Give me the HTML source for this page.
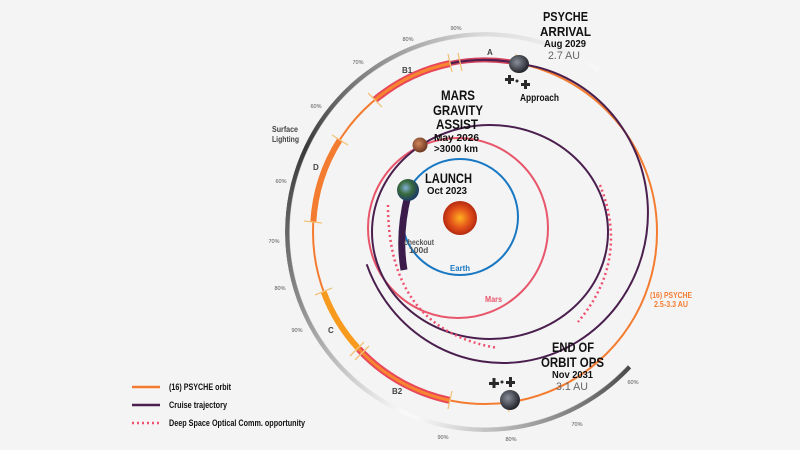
<!DOCTYPE html>
<html><head><meta charset="utf-8"><style>
body{margin:0;background:#f4f4f4;}
#w{position:relative;width:800px;height:450px;overflow:hidden;background:#f4f4f4;font-family:"Liberation Sans",sans-serif;}
#ring{position:absolute;left:285px;top:32px;width:400px;height:400px;border-radius:50%;
background:conic-gradient(from 0deg,#dcdcdc 0deg,#f8f8f8 35deg,transparent 35deg,transparent 133deg,#4a4a4a 133deg,#f8f8f8 200deg,#f8f8f8 205deg,#8a8a8a 250deg,#3a3a3a 295deg,#8a8a8a 325deg,#dcdcdc 360deg);
-webkit-mask:radial-gradient(circle,transparent 195px,#000 196px,#000 204px,transparent 205px);
mask:radial-gradient(circle,transparent 195px,#000 196px,#000 204px,transparent 205px);}
svg{position:absolute;left:0;top:0;}
text{font-family:"Liberation Sans",sans-serif;}
</style></head><body><div id="w">
<div id="ring"></div>
<svg width="800" height="450" viewBox="0 0 800 450">
<defs>
<radialGradient id="sun" cx="50%" cy="50%" r="50%"><stop offset="0" stop-color="#ffb020"/><stop offset="0.6" stop-color="#e2501a"/><stop offset="1" stop-color="#b52a10"/></radialGradient>
<radialGradient id="earth" cx="40%" cy="40%" r="60%"><stop offset="0" stop-color="#7fb0d8"/><stop offset="0.5" stop-color="#3a6b3c"/><stop offset="1" stop-color="#1d3a66"/></radialGradient>
<radialGradient id="mars" cx="40%" cy="40%" r="60%"><stop offset="0" stop-color="#d2865a"/><stop offset="1" stop-color="#6e3a22"/></radialGradient>
<radialGradient id="ast" cx="40%" cy="40%" r="60%"><stop offset="0" stop-color="#8a8f9a"/><stop offset="1" stop-color="#23252c"/></radialGradient>
</defs>
<circle cx="460" cy="217" r="58" fill="none" stroke="#1a78c2" stroke-width="2"/>
<circle cx="458" cy="228" r="90" fill="none" stroke="#e8566b" stroke-width="2"/>
<circle cx="485" cy="232" r="172" fill="none" stroke="#f47c30" stroke-width="2"/>
<ellipse cx="490" cy="232" rx="118" ry="107" fill="none" stroke="#4a1f4e" stroke-width="2"/>
<path d="M366.7,264.3 A145,150 0 1 0 518.2,63.8" fill="none" stroke="#4a1f4e" stroke-width="2"/>
<path d="M408,195 Q398,235 404,270" fill="none" stroke="#3b1b4a" stroke-width="7"/>
<path d="M388,205 Q388,330 498,348" fill="none" stroke="#f0506e" stroke-width="2.5" stroke-dasharray="2 3"/>
<path d="M600,185 Q630,260 578,322" fill="none" stroke="#f0506e" stroke-width="2.5" stroke-dasharray="2 3"/>
<path d="M339.8,139.8 A172,172 0 0 0 313.3,222.1" fill="none" stroke="#f47c30" stroke-width="6"/>
<path d="M374.9,99.9 A172,172 0 0 1 450.4,63.4" fill="none" stroke="#e8485a" stroke-width="7"/>
<path d="M374.9,99.9 A172,172 0 0 1 450.4,63.4" fill="none" stroke="#f7862e" stroke-width="3"/>
<path d="M450.4,63.4 A172,172 0 0 1 514.9,62.6" fill="none" stroke="#d2405a" stroke-width="5"/>
<path d="M450.4,63.4 A172,172 0 0 1 514.9,62.6" fill="none" stroke="#4a1f4e" stroke-width="2"/>
<path d="M323.6,291.7 A172,172 0 0 0 358.9,349.1" fill="none" stroke="#f79a1e" stroke-width="6"/>
<path d="M358.9,349.1 A172,172 0 0 0 449.9,400.4" fill="none" stroke="#e8485a" stroke-width="7"/>
<path d="M358.9,349.1 A172,172 0 0 0 449.9,400.4" fill="none" stroke="#f7862e" stroke-width="3"/>
<g stroke="#f3c27a" stroke-width="1.3">
<line x1="304" y1="221" x2="322" y2="223"/><line x1="332" y1="135" x2="348" y2="145"/>
<line x1="368" y1="93" x2="382" y2="107"/><line x1="448" y1="54" x2="452" y2="72"/>
<line x1="458" y1="53" x2="462" y2="71"/><line x1="516" y1="54" x2="514" y2="72"/>
<line x1="315" y1="295" x2="332" y2="288"/><line x1="350" y1="356" x2="364" y2="342"/>
<line x1="355" y1="360" x2="369" y2="346"/><line x1="448" y1="409" x2="452" y2="391"/>
<line x1="509" y1="412" x2="506" y2="394"/>
</g>
<circle cx="460" cy="218" r="17" fill="url(#sun)"/>
<circle cx="408" cy="190" r="11" fill="url(#earth)"/>
<circle cx="420" cy="145" r="7.5" fill="url(#mars)"/>
<ellipse cx="519" cy="64" rx="10" ry="9" fill="url(#ast)"/>
<ellipse cx="510" cy="400" rx="10" ry="10" fill="url(#ast)"/>
<g fill="#2a2a2a">
<rect x="505" y="78" width="9" height="3"/><rect x="508" y="75" width="3" height="9"/>
<rect x="521" y="83" width="9" height="3"/><rect x="524" y="80" width="3" height="9"/>
<circle cx="517" cy="81" r="1.5"/>
<rect x="489" y="382" width="10" height="3"/><rect x="492.5" y="378" width="3" height="10"/>
<rect x="506" y="381" width="9" height="3"/><rect x="509" y="377" width="3" height="10"/>
<circle cx="502" cy="382" r="1.5"/>
</g>
<g font-weight="bold" fill="#111" lengthAdjust="spacingAndGlyphs">
<text x="543" y="21" font-size="13" textLength="45" lengthAdjust="spacingAndGlyphs">PSYCHE</text>
<text x="540" y="36" font-size="13" textLength="51" lengthAdjust="spacingAndGlyphs">ARRIVAL</text>
<text x="544" y="47" font-size="10" textLength="42" lengthAdjust="spacingAndGlyphs">Aug 2029</text>
<text x="548" y="59" font-size="11" fill="#666" font-weight="normal" textLength="32" lengthAdjust="spacingAndGlyphs">2.7 AU</text>
<text x="520" y="101" font-size="10" textLength="39" lengthAdjust="spacingAndGlyphs">Approach</text>
<text x="441" y="100" font-size="14" textLength="34" lengthAdjust="spacingAndGlyphs">MARS</text>
<text x="433" y="115" font-size="14" textLength="50" lengthAdjust="spacingAndGlyphs">GRAVITY</text>
<text x="436" y="129" font-size="14" textLength="42" lengthAdjust="spacingAndGlyphs">ASSIST</text>
<text x="434" y="141" font-size="10" textLength="45" lengthAdjust="spacingAndGlyphs">May 2026</text>
<text x="434" y="152" font-size="10" textLength="44" lengthAdjust="spacingAndGlyphs">&gt;3000 km</text>
<text x="425" y="183" font-size="14" textLength="47" lengthAdjust="spacingAndGlyphs">LAUNCH</text>
<text x="427" y="194" font-size="10" textLength="40" lengthAdjust="spacingAndGlyphs">Oct 2023</text>
<text x="552" y="352" font-size="14" textLength="42" lengthAdjust="spacingAndGlyphs">END OF</text>
<text x="541" y="367" font-size="14" textLength="63" lengthAdjust="spacingAndGlyphs">ORBIT OPS</text>
<text x="552" y="378" font-size="10" textLength="41" lengthAdjust="spacingAndGlyphs">Nov 2031</text>
<text x="556" y="390" font-size="11" fill="#666" font-weight="normal" textLength="32" lengthAdjust="spacingAndGlyphs">3.1 AU</text>
<text x="404" y="245" font-size="8.5" fill="#555" textLength="30" lengthAdjust="spacingAndGlyphs">checkout</text>
<text x="409" y="253" font-size="8.5" fill="#555">100d</text>
<text x="450" y="271" font-size="8.5" fill="#1a78c2" textLength="20" lengthAdjust="spacingAndGlyphs">Earth</text>
<text x="485" y="302" font-size="8.5" fill="#e8566b" textLength="17" lengthAdjust="spacingAndGlyphs">Mars</text>
<text x="650" y="298" font-size="8.5" fill="#f47c30" textLength="42" lengthAdjust="spacingAndGlyphs">(16) PSYCHE</text>
<text x="654" y="307" font-size="8.5" fill="#f47c30" textLength="34" lengthAdjust="spacingAndGlyphs">2.5-3.3 AU</text>
<text x="272" y="132" font-size="8.5" fill="#444" textLength="26" lengthAdjust="spacingAndGlyphs">Surface</text>
<text x="272" y="142" font-size="8.5" fill="#444" textLength="27" lengthAdjust="spacingAndGlyphs">Lighting</text>
<g font-size="8" fill="#444"><text x="487" y="55">A</text><text x="402" y="73">B1</text><text x="313" y="170">D</text><text x="328" y="333">C</text><text x="392" y="394">B2</text></g>
</g>
<g font-size="5.5" fill="#555" text-anchor="middle">
<text x="456" y="30">90%</text><text x="408" y="41">80%</text><text x="358" y="64">70%</text>
<text x="316" y="108">60%</text><text x="281" y="183">60%</text><text x="274" y="243">70%</text>
<text x="280" y="290">80%</text><text x="297" y="332">90%</text>
<text x="443" y="439">90%</text><text x="511" y="441">80%</text><text x="577" y="426">70%</text><text x="633" y="384">60%</text>
</g>
<line x1="132" y1="387" x2="160" y2="387" stroke="#f47c30" stroke-width="2.5"/>
<line x1="132" y1="405" x2="160" y2="405" stroke="#4a1f4e" stroke-width="2.5"/>
<line x1="132" y1="423" x2="161" y2="423" stroke="#f0506e" stroke-width="2.5" stroke-dasharray="2 3"/>
<g font-size="9" font-weight="bold" fill="#111">
<text x="169" y="390" textLength="62" lengthAdjust="spacingAndGlyphs">(16) PSYCHE orbit</text>
<text x="169" y="408" textLength="58" lengthAdjust="spacingAndGlyphs">Cruise trajectory</text>
<text x="169" y="426" textLength="136" lengthAdjust="spacingAndGlyphs">Deep Space Optical Comm. opportunity</text>
</g>
</svg>
</div></body></html>
